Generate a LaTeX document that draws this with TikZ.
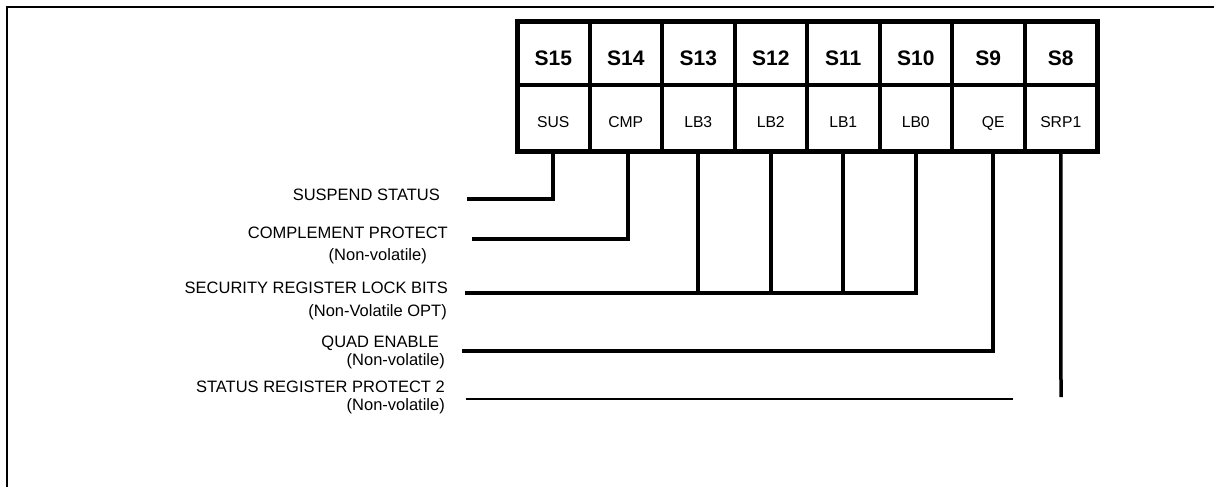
\documentclass[tikz,border=0pt]{standalone}
\usepackage{fontspec}
\setmainfont{Liberation Sans}

\begin{document}
\begin{tikzpicture}[x=1pt,y=-1pt,
  bitcell/.style={draw, line width=4pt, minimum width=72.5pt, inner sep=0pt, outer sep=0pt},
  bitname/.style={bitcell, minimum height=63pt, font=\fontsize{21}{24}\selectfont\bfseries, text height=24pt, text depth=0pt},
  bitfield/.style={bitcell, minimum height=66pt, font=\fontsize{15.7}{18}\selectfont, text height=19pt, text depth=0pt},
  desc/.style={anchor=east, inner sep=0pt, font=\fontsize{16.5}{18}\selectfont, text height=11.8pt, text depth=0pt},
  link/.style={line width=4pt},
  thinlink/.style={line width=3.5pt},
  hairlink/.style={line width=2.2pt}]
  \useasboundingbox (0,0) rectangle (1214,487);
  % Frame
  \draw[line width=2.5pt] (7,487) -- (7,7) -- (1214,7);

  % Bit numbers
  \node[bitname] (s15) at (553.25,53.5) {S15};
  \node[bitname] (s14) at (625.75,53.5) {S14};
  \node[bitname] (s13) at (698.25,53.5) {S13};
  \node[bitname] (s12) at (770.75,53.5) {S12};
  \node[bitname] (s11) at (843.25,53.5) {S11};
  \node[bitname] (s10) at (915.75,53.5) {S10};
  \node[bitname] (s9)  at (988.25,53.5) {S9};
  \node[bitname] (s8)  at (1060.75,53.5) {S8};
  % Bit fields
  \node[bitfield] (sus)  at (553.25,118) {SUS};
  \node[bitfield] (cmp)  at (625.75,118) {CMP};
  \node[bitfield] (lb3)  at (698.25,118) {LB3};
  \node[bitfield] (lb2)  at (770.75,118) {LB2};
  \node[bitfield] (lb1)  at (843.25,118) {LB1};
  \node[bitfield] (lb0)  at (915.75,118) {LB0};
  \node[bitfield] (qe)   at (988.25,118) {\hspace{10pt}QE};
  \node[bitfield] (srp1) at (1060.75,118) {SRP1};
  \draw[line width=5pt] (s15.north west) rectangle (srp1.south east);

  % Descriptions
  \node[desc] (susl)  at (440,195) {SUSPEND STATUS};
  \node[desc] (cmpl)  at (448,233) {COMPLEMENT PROTECT};
  \node[desc] (cmpv)  at (427,255) {(Non-volatile)};
  \node[desc] (lbl)   at (448,288) {SECURITY REGISTER LOCK BITS};
  \node[desc] (lbv)   at (447,311) {(Non-Volatile OPT)};
  \node[desc] (qel)   at (439,342) {QUAD ENABLE};
  \node[desc] (qev)   at (445,360) {(Non-volatile)};
  \node[desc] (srpl)  at (445,387) {STATUS REGISTER PROTECT 2};
  \node[desc] (srpv)  at (445,405) {(Non-volatile)};

  % Line ends
  \coordinate (e1) at (467,199);
  \coordinate (e2) at (472,239);
  \coordinate (e3) at (465,293);
  \coordinate (e4) at (462,351);
  \coordinate (e5) at (1061,397);
  \coordinate (e6) at (466,399);
  \coordinate (e7) at (1013,399);

  % Connectors
  \draw[link] (sus.south) |- (e1);
  \draw[link] ([xshift=2]cmp.south) |- (e2);
  \draw[link] (lb3.south) -- (lb3.south |- e3);
  \draw[link] (lb2.south) -- (lb2.south |- e3);
  \draw[link] (lb1.south) -- (lb1.south |- e3);
  \draw[link] (lb0.south) |- (e3);
  \draw[link] ([xshift=5]qe.south) |- (e4);
  \draw[thinlink] (srp1.south) -- (e5);
  \draw[hairlink] (e6) -- (e7);
\end{tikzpicture}
\end{document}
